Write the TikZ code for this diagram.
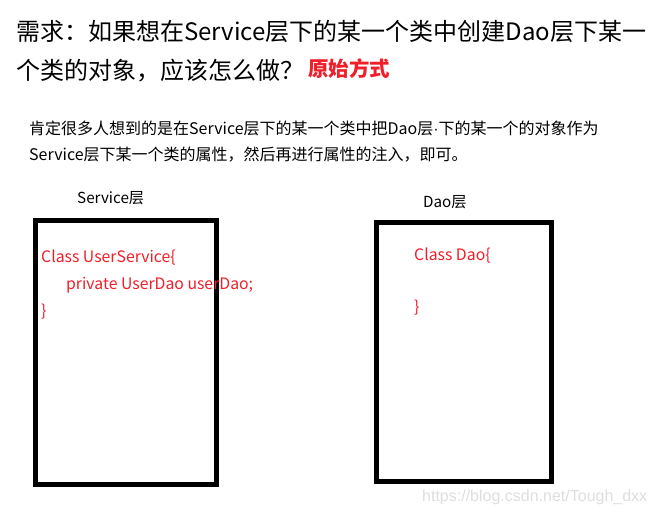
\documentclass[tikz,border=0pt]{standalone}
\usepackage{fontspec}
\setmainfont{Noto Sans CJK SC}
\newfontfamily\wmfont{Liberation Sans}
\usepackage{xcolor}
\usepackage{tikz}
\usetikzlibrary{positioning}
\definecolor{codered}{RGB}{240,30,40}
\definecolor{wmgray}{RGB}{222,222,222}

\begin{document}
\begin{tikzpicture}[
  x=1pt, y=-1pt,
  t/.style={anchor=west, inner sep=0pt},
  head/.style={t, font=\fontsize{24}{28}\selectfont},
  para/.style={t, font=\fontsize{16}{19}\selectfont},
  lbl/.style={t, font=\fontsize{15.2}{18}\selectfont},
  c/.style={t, text=codered, font=\fontsize{15.8}{19}\selectfont},
  layer/.style={draw, line width=5pt, inner sep=0pt}
]
\useasboundingbox (0,0) rectangle (656,514);

% ---- heading ----
\node[head] (q1) at (16,31) {需求：如果想在Service层下的某一个类中创建Dao层下某一};
\node[head] (q2) at (16,70.5) {个类的对象，应该怎么做？};
\node[t, text=codered, font=\fontsize{20.5}{24}\selectfont\bfseries] (orig) at (308,69) {原始方式};

% ---- explanation ----
\node[para] (p1) at (29,128) {肯定很多人想到的是在Service层下的某一个类中把Dao层{\wmfont·}下的某一个的对象作为};
\node[para] (p2) at (29,155) {Service层下某一个类的属性，然后再进行属性的注入，即可。};

% ---- the two layers ----
\node[layer, minimum width=181pt, minimum height=263.5pt] (svc) at (126,352.25) {};
\node[layer, minimum width=174.5pt, minimum height=259pt] (dao) at (463.75,352) {};
\node[lbl] (svclbl) at (77,198) {Service层};
\node[lbl] (daolbl) at (423,202) {Dao层};

% ---- code in the boxes ----
\node[c] (s1) at (41,258) {Class UserService\{};
\node[c] (s2) at (66,285) {private UserDao userDao;};
\node[c] (s3) at (41,312) {\}};
\node[c] (d1) at (414,256) {Class Dao\{};
\node[c] (d2) at (414,308) {\}};

% ---- watermark ----
\node[t, text=wmgray, font=\wmfont\fontsize{16}{19}\selectfont] (wm) at (422,497) {https://blog.csdn.net/Tough\_dxx};

\end{tikzpicture}
\end{document}
